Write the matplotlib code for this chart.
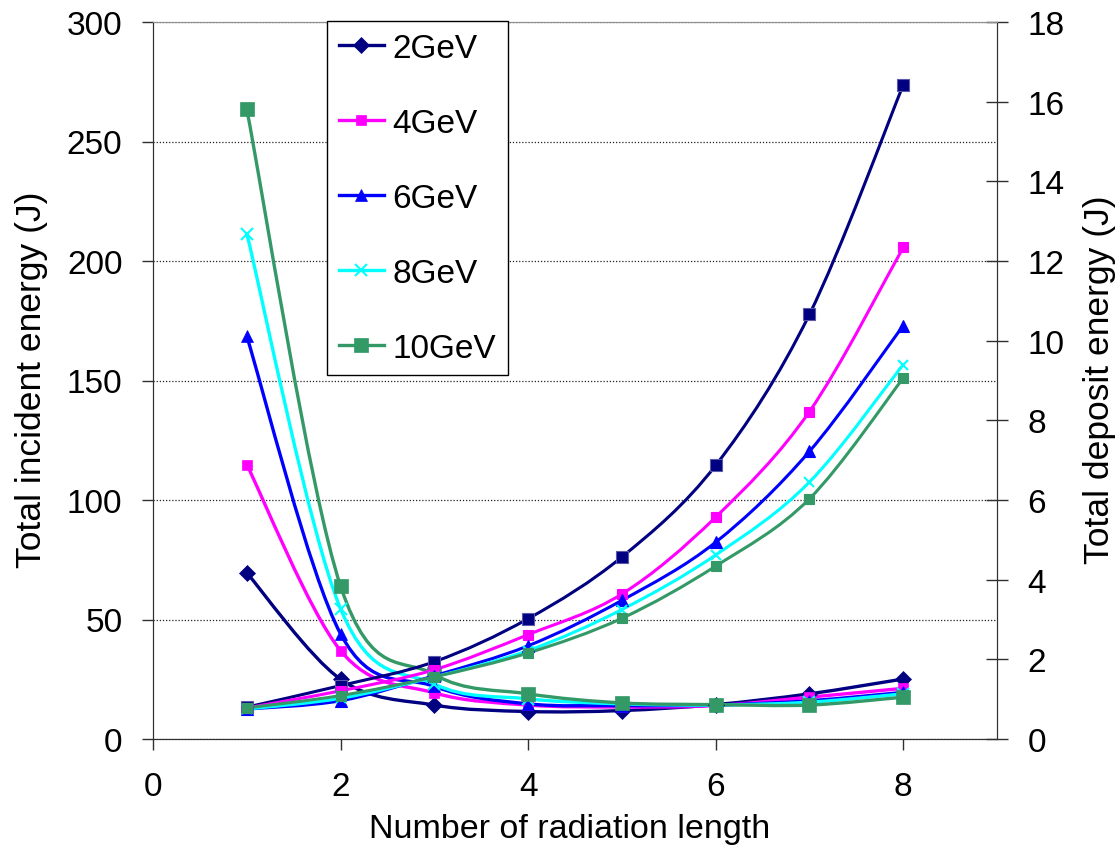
import numpy as np
import matplotlib
matplotlib.use("Agg")
import matplotlib.pyplot as plt
from matplotlib.path import Path
from matplotlib.patches import PathPatch
from matplotlib.lines import Line2D

plt.rcParams['font.family'] = ['Liberation Sans', 'DejaVu Sans']

# Radiation lengths
x = [1, 2, 3, 4, 5, 6, 7, 8]

# Total incident energy (J), left axis
inc_2 = [69.5, 25.0, 14.2, 11.5, 11.9, 14.4, 18.9, 25.1]
inc_4 = [114.8, 37.0, 19.3, 14.2, 13.4, 14.0, 17.5, 21.2]
inc_6 = [168.5, 44.0, 22.0, 14.7, 14.0, 14.2, 16.0, 19.5]
inc_8 = [211.5, 54.5, 23.0, 16.8, 14.7, 14.2, 15.4, 18.9]
inc_10 = [263.5, 64.0, 27.0, 18.9, 15.1, 14.4, 14.2, 17.5]

# Total deposit energy (J), right axis
dep_2 = [0.80, 1.34, 1.94, 3.02, 4.57, 6.87, 10.66, 16.42]
dep_4 = [0.78, 1.21, 1.74, 2.62, 3.64, 5.57, 8.22, 12.34]
dep_6 = [0.75, 0.96, 1.59, 2.34, 3.48, 4.94, 7.22, 10.38]
dep_8 = [0.75, 1.02, 1.56, 2.22, 3.25, 4.62, 6.45, 9.40]
dep_10 = [0.78, 1.09, 1.56, 2.16, 3.03, 4.34, 6.03, 9.06]

labels = ['2GeV', '4GeV', '6GeV', '8GeV', '10GeV']
colors = ['#000080', '#FF00FF', '#0000FF', '#00FFFF', '#339966']


def smooth_path(xs, ys):
    # Excel-like smoothed line: Catmull-Rom as cubic Bezier segments
    pts = np.column_stack([xs, ys]).astype(float)
    n = len(pts)
    verts = [pts[0]]
    codes = [Path.MOVETO]
    for i in range(n - 1):
        p0 = pts[i - 1] if i > 0 else pts[i]
        p1, p2 = pts[i], pts[i + 1]
        p3 = pts[i + 2] if i + 2 < n else pts[i + 1]
        verts += [p1 + (p2 - p0) / 6, p2 - (p3 - p1) / 6, p2]
        codes += [Path.CURVE4] * 3
    return Path(verts, codes)


fig = plt.figure(figsize=(11.19, 8.54), dpi=100)
ax = fig.add_axes([153 / 1119, 1 - 740 / 854, 844 / 1119, 717 / 854])
ax2 = ax.twinx()

# left axis series (decreasing)
inc_series = [inc_2, inc_4, inc_6, inc_8, inc_10]
inc_marks = [('D', 8.5, 0), ('s', 6.5, 0), ('^', 9, 0), ('x', 8, 1.5), ('s', 10.5, 0)]
for ys, c, (m, ms, mew) in zip(inc_series, colors, inc_marks):
    ax.add_patch(PathPatch(smooth_path(x, ys), facecolor='none', edgecolor=c, lw=2.4))
    ax.plot(x, ys, ls='none', marker=m, ms=ms, color=c, mec=c, mew=mew if mew else 0.5)

# right axis series (increasing)
dep_series = [dep_2, dep_4, dep_6, dep_8, dep_10]
dep_marks = [('s', 9, 0), ('s', 7, 0), ('^', 8.5, 0), ('x', 7, 1.5), ('s', 7, 0)]
for ys, c, (m, ms, mew) in zip(dep_series, colors, dep_marks):
    ax2.add_patch(PathPatch(smooth_path(x, ys), facecolor='none', edgecolor=c, lw=2.2))
    mec = '#5a5aa8' if c == '#000080' else c
    ax2.plot(x, ys, ls='none', marker=m, ms=ms, color=c, mec=mec, mew=mew if mew else 0.8)

ax.set_xlim(0, 9)
ax.set_ylim(0, 300)
ax2.set_ylim(0, 18)
ax.set_xticks([0, 2, 4, 6, 8])
ax.set_yticks(np.arange(0, 301, 50))
ax2.set_yticks(np.arange(0, 19, 2))

ax.yaxis.grid(True, linestyle=(0, (1, 1.5)), color='#222222', lw=0.9)
ax.set_axisbelow(True)

for sp in ['left', 'bottom', 'right']:
    ax.spines[sp].set_color('#303030')
    ax2.spines[sp].set_color('#303030')
ax.spines['top'].set_color('#909090')
ax2.spines['top'].set_color('#909090')

ax.tick_params(axis='y', direction='out', length=8, width=1, pad=14, labelsize=24, color='#303030')
ax.tick_params(axis='x', direction='out', length=8, width=1, pad=15, labelsize=24, color='#303030')
ax2.tick_params(axis='y', direction='inout', length=16, width=1, pad=14, labelsize=24, color='#303030')

ax.set_xlabel('Number of radiation length', fontsize=24.5, va='center')
ax.set_ylabel('Total incident energy (J)', fontsize=25.5, va='center')
ax2.set_ylabel('Total deposit energy (J)', fontsize=25.5, va='center')
ax.xaxis.set_label_coords(0.494, -0.1255)
ax.yaxis.set_label_coords(-0.1434, 0.502)
ax2.yaxis.set_label_coords(1.122, 0.502)

handles = [Line2D([], [], color=c, lw=2.4, marker=m, ms=ms, mew=(mew if mew else 0.5), mec=c)
           for c, (m, ms, mew) in zip(colors, inc_marks)]
leg = ax2.legend(handles, labels, loc='upper left', bbox_to_anchor=(327 / 1119, 1 - 22 / 854),
                 bbox_transform=fig.transFigure, borderaxespad=0, fontsize=24,
                 frameon=True, fancybox=False, framealpha=1, edgecolor='black',
                 handlelength=1.35, handletextpad=0.27, borderpad=0.35, labelspacing=1.32)
leg.get_frame().set_linewidth(1.0)

fig.savefig('out.png', dpi=100)
